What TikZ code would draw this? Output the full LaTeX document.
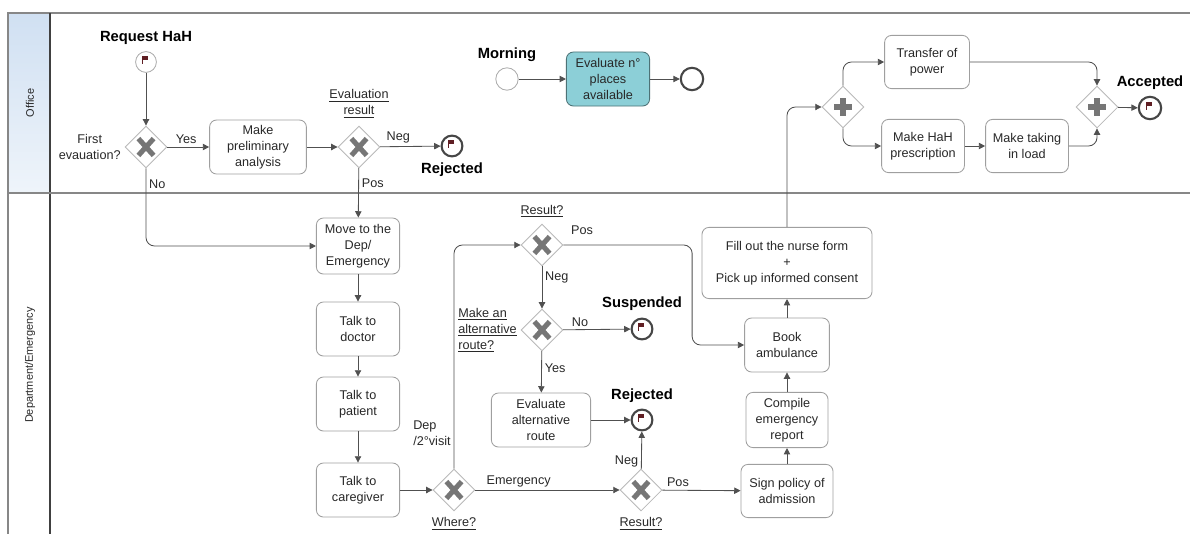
\documentclass[tikz,border=0pt]{standalone}
\usepackage{fontspec}
\setmainfont{Liberation Sans}
\usetikzlibrary{shapes.geometric, arrows.meta, positioning, calc}
\definecolor{laneline}{RGB}{135,135,135}
\definecolor{flowgray}{RGB}{80,80,80}
\definecolor{gategray}{RGB}{118,118,118}
\definecolor{flagred}{RGB}{95,30,35}
\definecolor{evalteal}{RGB}{140,207,215}
\definecolor{officeblue}{RGB}{208,224,242}
\definecolor{textdark}{RGB}{40,40,40}
\newcommand{\bpmnfont}{\fontsize{9}{11.4}\selectfont}
\newcommand{\lanefont}{\fontsize{7.8}{9}\selectfont}
\newcommand{\eventfont}{\fontsize{10.5}{12}\selectfont\bfseries}
\tikzset{
  % Lanes
  lane/.style={draw=laneline, line width=0.8pt},
  lanetext/.style={rotate=90, font=\lanefont, text=textdark},
  % Activities
  task/.style={
    rectangle, rounded corners=5pt, draw=gray!75, fill=white, line width=0.6pt,
    align=center, font=\bpmnfont, text=textdark, minimum width=2.08cm, minimum height=1.35cm, inner sep=1pt
  },
  % Gateways
  gatexor/.style={
    diamond, draw=gray!55, fill=white, line width=0.6pt, minimum width=1.05cm,
    minimum height=1.05cm, inner sep=0pt,
    path picture={
      \draw[gategray, line width=3.6pt]
        ([shift={(-0.19cm,-0.21cm)}]path picture bounding box.center) --
        ([shift={(0.19cm,0.21cm)}]path picture bounding box.center)
        ([shift={(-0.19cm,0.21cm)}]path picture bounding box.center) --
        ([shift={(0.19cm,-0.21cm)}]path picture bounding box.center);
    }
  },
  gateand/.style={
    diamond, draw=gray!55, fill=white, line width=0.6pt, minimum width=1.05cm,
    minimum height=1.05cm, inner sep=0pt,
    path picture={
      \draw[gategray, line width=3.6pt]
        ([xshift=-0.22cm]path picture bounding box.center) --
        ([xshift=0.22cm]path picture bounding box.center)
        ([yshift=-0.22cm]path picture bounding box.center) --
        ([yshift=0.22cm]path picture bounding box.center);
    }
  },
  % Events
  startev/.style={circle, draw=gray!65, fill=white, line width=0.6pt, minimum size=0.52cm, inner sep=0pt},
  endev/.style={circle, draw=gray!55!black, fill=white, line width=1.5pt, minimum size=0.52cm, inner sep=0pt},
  flagged/.style={
    path picture={
      \fill[flagred] ([shift={(-0.09cm,0.05cm)}]path picture bounding box.center)
        rectangle ([shift={(0.04cm,0.15cm)}]path picture bounding box.center);
      \draw[flagred, line width=0.6pt] ([shift={(-0.09cm,-0.04cm)}]path picture bounding box.center)
        -- ([shift={(-0.09cm,0.15cm)}]path picture bounding box.center);
    }
  },
  evlabel/.style={font=\eventfont, text=black, inner sep=1pt},
  lbl/.style={font=\bpmnfont, text=textdark, inner sep=2pt},
  flow/.style={-{Triangle[length=4.5pt, width=4.5pt]}, flowgray, line width=0.6pt, rounded corners=6pt}
}
\begin{document}
\begin{tikzpicture}[x=0.025cm, y=-0.025cm]
  \useasboundingbox (0,0) rectangle (1190,534);

  % Pool and lanes
  \shade[top color=officeblue, bottom color=officeblue!35] (8,13) rectangle (50,193);
  \draw[lane] (1190,13) -- (8,13) -- (8,534);
  \draw[lane, draw=gray!50!black] (50,13) -- (50,534);
  \draw[lane] (8,193) -- (1190,193);
  \node[lanetext] (laneoffice) at (30,103) {Office};
  \node[lanetext] (lanedep) at (30,365) {Department/Emergency};

  % Office lane
  \node[startev, flagged] (request) at (146,62) {};
  \node[evlabel, above=0.12cm of request] (requestlbl) {Request HaH};
  \node[gatexor] (gfirst) at (146,147) {};
  \node[lbl, align=center, left=0.02cm of gfirst] (gfirstlbl) {First\\evauation?};
  \node[task, minimum width=2.42cm] (prelim) at (258,147) {Make\\preliminary\\analysis};
  \node[gatexor] (geval) at (359,147) {};
  \node[lbl, align=center, above=0.12cm of geval] (gevallbl) {\underline{Evaluation}\\\underline{result}};
  \node[endev, flagged] (rejone) at (452,146) {};
  \node[evlabel, below=0.1cm of rejone] (rejonelbl) {Rejected};

  \node[startev, minimum size=0.56cm] (mstart) at (507,79) {};
  \node[evlabel, above=0.1cm of mstart] (mstartlbl) {Morning};
  \node[task, fill=evalteal, draw=evalteal!55!black] (places) at (608,79) {Evaluate n°\\places\\available};
  \node[endev, minimum size=0.56cm] (mend) at (692,79) {};

  \node[gateand] (gsplit) at (843,107) {};
  \node[task, minimum width=2.12cm, minimum height=1.33cm] (transfer) at (927,62) {Transfer of\\power};
  \node[task, minimum width=2.07cm, minimum height=1.33cm] (prescr) at (923,146) {Make HaH\\prescription};
  \node[task, minimum width=2.07cm, minimum height=1.33cm] (taking) at (1027,146) {Make taking\\in load};
  \node[gateand] (gjoin) at (1097,107) {};
  \node[endev, flagged, minimum size=0.56cm] (accept) at (1150,108) {};
  \node[evlabel, above=0.12cm of accept] (acceptlbl) {Accepted};

  % Department/Emergency lane
  \node[task, minimum height=1.4cm] (move) at (358,246) {Move to the\\Dep/\\Emergency};
  \node[task] (doctor) at (358,329) {Talk to\\doctor};
  \node[task] (patient) at (358,404) {Talk to\\patient};
  \node[task] (caregiver) at (358,490) {Talk to\\caregiver};
  \node[gatexor] (gwhere) at (454,490) {};
  \node[lbl, below=0.08cm of gwhere] (gwherelbl) {\underline{Where?}};
  \node[lbl, align=left] (deplbl) at (432,433) {Dep\\/2°visit};

  \node[gatexor] (gresup) at (542,245) {};
  \node[lbl, above=0.08cm of gresup] (gresuplbl) {\underline{Result?}};
  \node[gatexor] (galt) at (542,330) {};
  \node[lbl, align=left, left=0.02cm of galt] (galtlbl) {\underline{Make an}\\\underline{alternative}\\\underline{route?}};
  \node[endev, flagged] (susp) at (642,329) {};
  \node[evlabel, above=0.12cm of susp] (susplbl) {Suspended};
  \node[task, minimum width=2.48cm] (evalalt) at (541,420) {Evaluate\\alternative\\route};
  \node[endev, flagged] (rejtwo) at (642,420) {};
  \node[evlabel, above=0.1cm of rejtwo] (rejtwolbl) {Rejected};
  \node[gatexor] (gresdown) at (641,490) {};
  \node[lbl, below=0.08cm of gresdown] (gresdownlbl) {\underline{Result?}};

  \node[task, minimum width=2.3cm, minimum height=1.33cm] (sign) at (787,491) {Sign policy of\\admission};
  \node[task, minimum width=2.05cm, minimum height=1.38cm] (compile) at (787,420) {Compile\\emergency\\report};
  \node[task, minimum width=2.12cm] (book) at (787,345) {Book\\ambulance};
  \node[task, minimum width=4.25cm, minimum height=1.78cm] (fill) at (787,263) {Fill out the nurse form\\+\\Pick up informed consent};

  % Flows
  \draw[flow] (request) -- (gfirst);
  \draw[flow] (gfirst) -- node[lbl, above, pos=0.45] {Yes} (prelim);
  \draw[flow] (gfirst.south) |- node[lbl, right, pos=0.1] {No} (move.west);
  \draw[flow] (prelim) -- (geval);
  \draw[flow] (geval) -- node[lbl, above, pos=0.3] {Neg} (rejone);
  \draw[flow] (geval) -- node[lbl, right, pos=0.3] {Pos} (move);
  \draw[flow] (mstart) -- (places);
  \draw[flow] (places) -- (mend);
  \draw[flow] (move) -- (doctor);
  \draw[flow] (doctor) -- (patient);
  \draw[flow] (patient) -- (caregiver);
  \draw[flow] (caregiver) -- (gwhere);
  \draw[flow] (gwhere) -- node[lbl, above, pos=0.3] {Emergency} (gresdown);
  \draw[flow] (gwhere.north) |- (gresup.west);
  \draw[flow] (gresup.east) -| ([xshift=-1.3cm]book.west) -- (book.west);
  \node[lbl] (gresuppos) at (582,230) {Pos};
  \draw[flow] (gresup) -- node[lbl, right, pos=0.25] {Neg} (galt);
  \draw[flow] (galt) -- node[lbl, above, pos=0.25] {No} (susp);
  \draw[flow] (galt) -- node[lbl, right, pos=0.4] {Yes} (evalalt);
  \draw[flow] (evalalt) -- (rejtwo);
  \draw[flow] (gresdown) -- node[lbl, left, pos=0.2] {Neg} (rejtwo);
  \draw[flow] (gresdown) -- node[lbl, above, pos=0.2] {Pos} (sign);
  \draw[flow] (sign) -- (compile);
  \draw[flow] (compile) -- (book);
  \draw[flow] (book) -- (fill);
  \draw[flow] (fill.north) |- (gsplit.west);
  \draw[flow] (gsplit.north) |- (transfer.west);
  \draw[flow] (gsplit.south) |- (prescr.west);
  \draw[flow] (prescr) -- (taking);
  \draw[flow] (transfer.east) -| (gjoin.north);
  \draw[flow] (taking.east) -| (gjoin.south);
  \draw[flow] (gjoin) -- (accept);
\end{tikzpicture}
\end{document}
